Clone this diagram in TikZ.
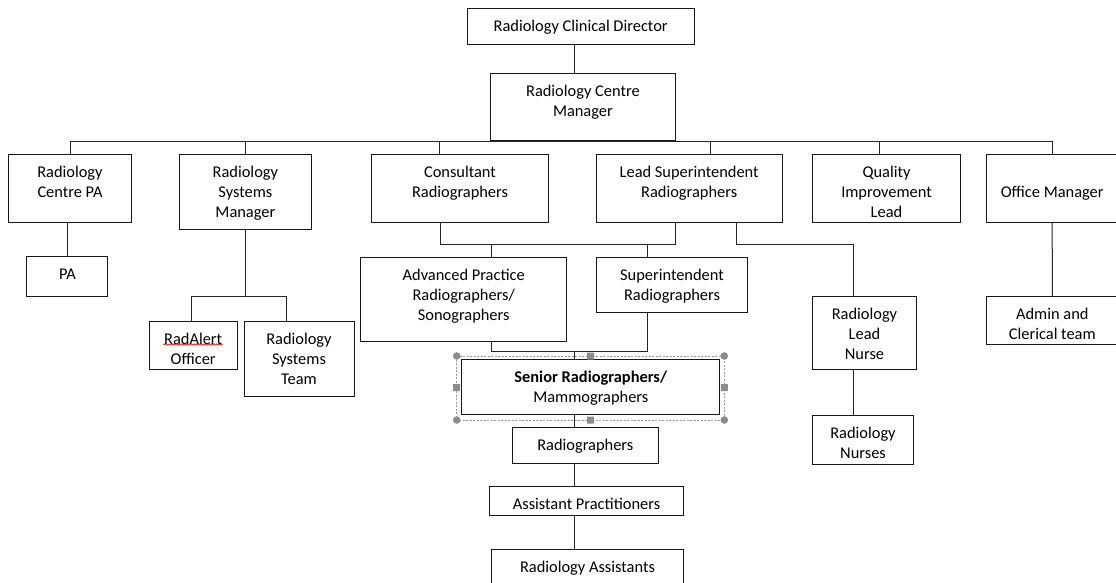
\documentclass[tikz,border=0pt]{standalone}
\usepackage{fontspec}
\setmainfont{Carlito}
\usetikzlibrary{decorations.pathmorphing}

\newcommand{\orgtext}[3]{\parbox[c][#2][t]{#1}{\centering\rule{0pt}{23pt}#3}}

\tikzset{
  orgbox/.style={draw=black!90, line width=1pt, inner sep=0pt, fill=white,
    font=\fontsize{16.4}{20}\selectfont},
  orgline/.style={draw=black!85, line width=1pt},
  selframe/.style={draw=black!40, line width=0.6pt, dash pattern=on 2pt off 1.5pt},
  handle/.style={fill=black!45}
}

\begin{document}
\begin{tikzpicture}[x=1pt,y=-1pt]
\useasboundingbox (0,0) rectangle (1116,582);
\clip (0,0) rectangle (1116,582);
\fill[white] (0,0) rectangle (1116,582);

\node[orgbox] (dir) at (580.7,26.2) {\orgtext{226.7pt}{35.7pt}{Radiology Clinical Director}};
\node[orgbox] (mgr) at (582.9,107.2) {\orgtext{185.7pt}{67pt}{Radiology Centre\\Manager}};

\node[orgbox] (cpa) at (70,188) {\orgtext{122.8pt}{68pt}{Radiology\\Centre PA}};
\node[orgbox] (sysmgr) at (245.4,191.7) {\orgtext{132.1pt}{75.3pt}{Radiology\\Systems\\Manager}};
\node[orgbox] (cons) at (460,188) {\orgtext{176.4pt}{68pt}{Consultant\\Radiographers}};
\node[orgbox] (leadsup) at (689.2,188) {\orgtext{185.6pt}{68pt}{Lead Superintendent\\Radiographers}};
\node[orgbox] (qil) at (886.5,188) {\orgtext{148.2pt}{68pt}{Quality\\Improvement\\Lead}};
\node[orgbox] (office) at (1052.2,188) {\orgtext{131.6pt}{68pt}{~\\Office Manager}};

\node[orgbox] (pa) at (67.4,276.7) {\orgtext{81.1pt}{40pt}{PA}};
\node[orgbox] (radalert) at (193.2,345.2) {\orgtext{88.3pt}{48.3pt}{RadAlert\\Officer}};
\node[orgbox] (systeam) at (299,358.9) {\orgtext{110pt}{75.7pt}{Radiology\\Systems\\Team}};
\node[orgbox] (adv) at (463.7,299.5) {\orgtext{206pt}{84.4pt}{Advanced Practice\\Radiographers/\\Sonographers}};
\node[orgbox] (supt) at (672,284.8) {\orgtext{150.6pt}{55pt}{Superintendent\\Radiographers}};
\node[orgbox] (leadnurse) at (864.5,333) {\orgtext{104.4pt}{72.6pt}{Radiology\\Lead\\Nurse}};
\node[orgbox] (nurses) at (863,440) {\orgtext{101.4pt}{48.6pt}{Radiology\\Nurses}};
\node[orgbox] (admin) at (1052.3,320.8) {\orgtext{131.3pt}{48.3pt}{Admin and\\Clerical team}};

\node[orgbox] (senior) at (590.8,386.8) {\orgtext{258.3pt}{55pt}{\textbf{Senior Radiographers/}\\Mammographers}};
\node[orgbox] (radiog) at (585.3,445.6) {\orgtext{146pt}{36.7pt}{Radiographers}};
\node[orgbox] (asstprac) at (586.5,501.3) {\orgtext{193.6pt}{29.3pt}{Assistant Practitioners}};
\node[orgbox] (radasst) at (587.5,574.7) {\orgtext{191.6pt}{50.7pt}{Radiology Assistants}};

\coordinate (spine) at (574.5,0);
\coordinate (cbus) at (560,244.5);
\coordinate (sbus) at (574.5,351.5);
\coordinate (sysbus) at (245.4,296.5);

\draw[orgline] (dir.south -| spine) -- (mgr.north -| spine);
\draw[orgline] (cpa.north) |- (mgr.south) -| (office.north);
\draw[orgline] (sysmgr.north) -- (sysmgr.north |- mgr.south);
\draw[orgline] ([xshift=-21]cons.north) -- ([xshift=-21]cons.north |- mgr.south);
\draw[orgline] ([xshift=21]leadsup.north) -- ([xshift=21]leadsup.north |- mgr.south);
\draw[orgline] ([xshift=-7]qil.north) -- ([xshift=-7]qil.north |- mgr.south);

\draw[orgline] (pa.north |- cpa.south) -- (pa.north);
\draw[orgline] (sysmgr.south) -- (sysbus);
\draw[orgline] ([xshift=-2]radalert.north) |- (sysbus) -| ([xshift=-13]systeam.north);

\draw[orgline] ([xshift=-20]cons.south) |- (cbus) -| ([xshift=-13.5]leadsup.south);
\draw[orgline] ([xshift=27.3]adv.north) -- ([xshift=27.3]adv.north |- cbus);
\draw[orgline] ([xshift=-25]supt.north) -- ([xshift=-25]supt.north |- cbus);
\draw[orgline] ([xshift=47.5]leadsup.south) |- ([xshift=-10.8]leadnurse.north |- cbus)
  -- ([xshift=-10.8]leadnurse.north);
\draw[orgline] ([xshift=-10.8]leadnurse.south) -- ([xshift=-10.8]leadnurse.south |- nurses.north);
\draw[orgline] (office.south) -- (admin.north);

\draw[orgline] ([xshift=27.3]adv.south) |- (sbus);
\draw[orgline] ([xshift=-25]supt.south) |- (sbus) -- (senior.north -| sbus);
\draw[orgline] (senior.south -| spine) -- (radiog.north -| spine);
\draw[orgline] (radiog.south -| spine) -- (asstprac.north -| spine);
\draw[orgline] (asstprac.south -| spine) -- (radasst.north -| spine);

\draw[selframe] (456.7,356) rectangle (724.3,420);
\fill[handle] (456.7,356) circle (3.8pt) (724.3,356) circle (3.8pt)
  (456.7,420) circle (3.8pt) (724.3,420) circle (3.8pt);
\fill[handle] (587.2,352.5) rectangle ++(7,7) (587.2,416.5) rectangle ++(7,7)
  (453.2,384.2) rectangle ++(7,7) (720.8,384.2) rectangle ++(7,7);

\draw[red!85!black, line width=0.6pt, decorate,
  decoration={snake, amplitude=0.7pt, segment length=2.5pt}] (163.3,344.5) -- (222.3,344.5);
\end{tikzpicture}
\end{document}
